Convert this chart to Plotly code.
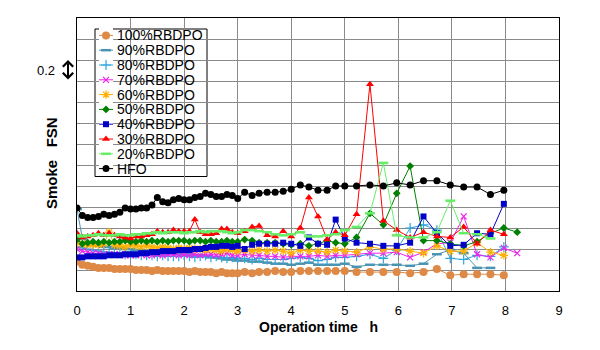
import plotly.graph_objects as go

# ---------------- data ----------------
time_h = [0.0, 0.1, 0.2, 0.3, 0.4, 0.5, 0.6, 0.7, 0.8, 0.9, 1.0,
          1.1, 1.2, 1.3, 1.4, 1.5, 1.6, 1.7, 1.8, 1.9, 2.0,
          2.1, 2.2, 2.3, 2.4, 2.5, 2.6, 2.7, 2.8, 2.9, 3.0,
          3.13, 3.27, 3.4, 3.55,
          3.7, 3.85, 4.0, 4.17, 4.33, 4.5, 4.67, 4.83, 5.0, 5.22, 5.47,
          5.72, 5.97, 6.22, 6.47, 6.72, 6.97, 7.22, 7.47, 7.72, 7.97,
          8.22]

rbdpo100 = [.28, .25, .24, .23, .22, .22, .22, .21, .21, .21, .21,
            .20, .20, .20, .19, .20, .19, .19, .19, .19, .19,
            .18, .19, .18, .18, .18, .17, .18, .17, .17, .17,
            .18, .17, .18, .18,
            .19, .18, .18, .19, .19, .19, .19, .19, .19, .18, .18,
            .18, .18, .17, .18, .21, .15, .16, .16, .16, .15,
            None]
rbdpo90 = [.78, .50, .46, .44, .43, .42, .42, .41, .41, .40, .40,
           .39, .39, .38, .38, .37, .37, .36, .36, .35, .35,
           .35, .34, .34, .33, .32, .32, .31, .30, .30, .29,
           .29, .28, .28, .27,
           .26, .26, .25, .26, .27, .25, .25, .25, .26, .23, .25,
           .25, .25, .24, .26, .35, .39, .36, .22, .22, None,
           None]
rbdpo80 = [.42, .41, .40, .39, .38, .37, .37, .36, .36, .35, .35,
           .35, .34, .34, .34, .33, .34, .33, .33, .33, .34,
           .33, .32, .33, .34, .32, .33, .32, .31, .32, .31,
           .31, .30, .31, .30,
           .30, .30, .31, .32, .31, .29, .30, .32, .32, .33, .35,
           .31, .39, .60, .63, .58, .31, .30, .34, .33, .42,
           None]
rbdpo70 = [.40, .38, .37, .36, .36, .35, .35, .35, .35, .34, .34,
           .34, .35, .34, .34, .35, .34, .35, .35, .34, .35,
           .34, .35, .34, .35, .35, .34, .35, .36, .34, .34,
           .35, .34, .34, .33,
           .33, .32, .33, .33, .33, .34, .33, .34, .34, .35, .36,
           .36, .37, .32, .37, .45, .46, .71, .35, .32, .41,
           .36]
rbdpo60 = [.46, .45, .44, .44, .44, .45, .56, .44, .43, .42, .44,
           .43, .42, .43, .42, .41, .42, .41, .40, .41, .40,
           .41, .40, .40, .39, .40, .39, .38, .40, .39, .38,
           .39, .38, .39, .38,
           .39, .38, .36, .39, .38, .38, .37, .39, .38, .37, .42,
           .40, .40, .38, .36, .43, .38, .38, .46, .37, .34,
           None]
rbdpo50 = [.49, .45, .46, .47, .46, .47, .46, .47, .47, .48, .47,
           .47, .48, .47, .48, .47, .48, .47, .48, .48, .48,
           .47, .48, .48, .47, .48, .47, .47, .48, .47, .47,
           .49, .48, .46, .46,
           .46, .45, .44, .45, .43, .45, .48, .46, .45, .51, .74,
           .63, .93, 1.19, .48, .48, .45, .43, .47, .55, .60,
           .56]
rbdpo40 = [.32, .32, .33, .33, .33, .33, .34, .34, .34, .35, .35,
           .35, .36, .36, .37, .37, .38, .38, .38, .39, .39,
           .39, .40, .40, .41, .42, .42, .43, .43, .42, .43,
           .40, .44, .45, .45,
           .45, .46, .45, .43, .51, .45, .44, .68, .50, .46, .45,
           .43, .43, .46, .71, .55, .43, .44, .55, .54, .83,
           None]
rbdpo30 = [.55, .51, .52, .53, .55, .53, .55, .53, .52, .51, .50,
           .52, .52, .53, .54, .57, .56, .56, .58, .57, .57,
           .57, .68, .56, .54, .54, .55, .59, .59, .56, .55,
           .57, .61, .62, .53,
           .52, .57, .52, .60, .89, .71, .49, .56, .53, .73, 1.97,
           .67, .58, .51, .56, .52, .51, .61, .45, .58, .54,
           None]
rbdpo20 = [.53, .52, .53, .53, .54, .53, .53, .53, .54, .53, .53,
           .54, .54, .55, .55, .56, .55, .56, .56, .56, .55,
           .56, .56, .57, .56, .57, .57, .57, .56, .55, .56,
           .58, .58, .57, .56,
           .54, .53, .54, .56, .52, .52, .53, .54, .58, .61, .74,
           1.22, .53, .51, .51, .56, .86, .55, .54, .50, None,
           None]
hfo = [.79, .72, .70, .70, .71, .73, .72, .73, .75, .79, .78,
       .78, .79, .79, .82, .89, .85, .84, .87, .88, .87,
       .87, .89, .90, .93, .92, .90, .90, .92, .91, .88,
       .94, .91, .93, .94,
       .94, .95, .97, 1.01, .99, .96, .96, 1.0, 1.0, 1.0, 1.01,
       1.0, 1.03, 1.01, 1.05, 1.05, 1.01, .99, .99, .92, .96,
       None]

series_names = ["100%RBDPO", "90%RBDPO", "80%RBDPO", "70%RBDPO", "60%RBDPO",
                "50%RBDPO", "40%RBDPO", "30%RBDPO", "20%RBDPO", "HFO"]
series_values = [rbdpo100, rbdpo90, rbdpo80, rbdpo70, rbdpo60,
                 rbdpo50, rbdpo40, rbdpo30, rbdpo20, hfo]
x_ticks = [0, 1, 2, 3, 4, 5, 6, 7, 8, 9]

# ---------------- styles ----------------
styles = [
    dict(color="#de8a46", symbol="circle", size=8, lw=0),
    dict(color="#4a94b2", symbol="line-ew", size=7, lw=2.5),
    dict(color="#2ea4de", symbol="cross-thin", size=7, lw=1.2),
    dict(color="#ee22ee", symbol="x-thin", size=6, lw=1.2),
    dict(color="#ffb000", symbol="asterisk", size=7, lw=1.2),
    dict(color="#008000", symbol="diamond", size=6, lw=0),
    dict(color="#0000c8", symbol="square", size=6, lw=0),
    dict(color="#ff0000", symbol="triangle-up", size=7, lw=0),
    dict(color="#66ee66", symbol="line-ew", size=7, lw=2.5),
    dict(color="#000000", symbol="circle", size=7, lw=0),
]

FONT = "Liberation Sans, Arial, sans-serif"

fig = go.Figure()
for name, vals, st in zip(series_names, series_values, styles):
    fig.add_trace(go.Scatter(
        x=time_h, y=vals, name=name, mode="lines+markers",
        line=dict(color=st["color"], width=1),
        marker=dict(symbol=st["symbol"], size=st["size"], color=st["color"],
                    line=dict(width=st["lw"], color=st["color"])),
        showlegend=False, xaxis="x", yaxis="y"))

# custom legend drawn on its own small axes (names become tick labels)
for name, st in zip(series_names, styles):
    fig.add_trace(go.Scatter(
        x=[0, 1], y=[name, name], mode="lines",
        line=dict(color=st["color"], width=1),
        showlegend=False, xaxis="x2", yaxis="y2", hoverinfo="skip"))
    fig.add_trace(go.Scatter(
        x=[0.5], y=[name], mode="markers",
        marker=dict(symbol=st["symbol"], size=st["size"], color=st["color"],
                    line=dict(width=st["lw"], color=st["color"])),
        showlegend=False, xaxis="x2", yaxis="y2", hoverinfo="skip"))

W, H = 600, 350
L_, R_, T_, B_ = 77, 41, 18, 59
pw, ph = W - L_ - R_, H - T_ - B_


def px_x(p):
    return (p - L_) / pw


def px_y(p):
    return (H - B_ - p) / ph


fig.update_layout(
    width=W, height=H, autosize=False,
    margin=dict(l=L_, r=R_, t=T_, b=B_),
    paper_bgcolor="white", plot_bgcolor="white",
    font=dict(family=FONT, color="black"),
    showlegend=False,
    xaxis=dict(range=[0, 9], tickvals=x_ticks, ticktext=[str(v) for v in x_ticks],
               showgrid=True, gridcolor="#8a8a8a", gridwidth=1,
               showline=True, linecolor="black", linewidth=1, mirror=True,
               zeroline=False, ticks="", ticklabelstandoff=7,
               tickfont=dict(size=13, family=FONT, color="black")),
    yaxis=dict(range=[0, 2.6], dtick=0.2, showticklabels=False,
               showgrid=True, gridcolor="#8a8a8a", gridwidth=1,
               showline=True, linecolor="black", linewidth=1, mirror=True,
               zeroline=False, ticks=""),
    xaxis2=dict(domain=[px_x(99), px_x(113)], range=[0, 1], anchor="y2",
                visible=False, fixedrange=True),
    yaxis2=dict(domain=[px_y(176), px_y(28)], anchor="x2", side="right",
                type="category", categoryorder="array", categoryarray=series_names,
                tickmode="array", tickvals=series_names, ticktext=series_names,
                range=[9.5, -0.5], showgrid=False, zeroline=False, showline=False,
                ticks="", ticklabelstandoff=3,
                tickfont=dict(size=14, family=FONT, color="black")),
)

# legend frame (in the legend subplot, under its sample marks)
fig.add_shape(type="rect", xref="x2 domain", yref="y2 domain",
              x0=(95 - 99) / 14, x1=(207 - 99) / 14,
              y0=(176 - 176.5) / 148, y1=(176 - 29) / 148,
              fillcolor="white", line=dict(color="black", width=1), layer="below")

# axis titles
fig.add_annotation(text="<b>Operation time\u00a0\u00a0\u00a0h</b>", xref="paper", yref="paper",
                   x=0.5, y=px_y(327), xanchor="center", yanchor="middle",
                   showarrow=False, font=dict(size=14, family=FONT, color="black"))
fig.add_annotation(text="<b>Smoke\u00a0\u00a0\u00a0FSN</b>", xref="paper", yref="paper",
                   x=px_x(51), y=px_y(163), xanchor="center", yanchor="middle",
                   textangle=-90, showarrow=False,
                   font=dict(size=15, family=FONT, color="black"))

# scale indicator: 0.2 FSN per grid step
fig.add_annotation(text="0.2", xref="paper", yref="y", x=px_x(45.5), y=2.1,
                   xanchor="center", yanchor="middle", showarrow=False,
                   font=dict(size=13, family=FONT, color="black"))
fig.add_annotation(text="", xref="paper", yref="y", x=px_x(68), y=2.2,
                   axref="pixel", ayref="y", ax=0, ay=2.0,
                   showarrow=True, arrowside="end+start", arrowhead=4, startarrowhead=4,
                   arrowwidth=2, arrowsize=1, startarrowsize=1, arrowcolor="black",
                   standoff=0, startstandoff=0)

fig.write_html("out.html")
